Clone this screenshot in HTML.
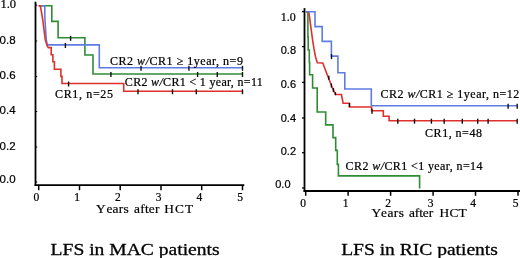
<!DOCTYPE html>
<html><head><meta charset="utf-8"><title>LFS</title>
<style>html,body{margin:0;padding:0;background:#fff;width:520px;height:258px;overflow:hidden}svg{display:block;will-change:transform}</style>
</head><body>
<svg width="520" height="258" viewBox="0 0 520 258">
<line x1="35.5" y1="1.7" x2="35.5" y2="186" stroke="#000" stroke-width="1.8"/>
<line x1="34.6" y1="185.2" x2="244.3" y2="185.2" stroke="#000" stroke-width="1.8"/>
<line x1="35.5" y1="5.2" x2="37.2" y2="5.2" stroke="#000" stroke-width="1.0"/>
<line x1="35.5" y1="41.0" x2="37.2" y2="41.0" stroke="#000" stroke-width="1.0"/>
<line x1="35.5" y1="76.4" x2="37.2" y2="76.4" stroke="#000" stroke-width="1.0"/>
<line x1="35.5" y1="111.5" x2="37.2" y2="111.5" stroke="#000" stroke-width="1.0"/>
<line x1="35.5" y1="147.0" x2="37.2" y2="147.0" stroke="#000" stroke-width="1.0"/>
<line x1="35.5" y1="182.0" x2="37.2" y2="182.0" stroke="#000" stroke-width="1.0"/>
<line x1="38.7" y1="185" x2="38.7" y2="190.2" stroke="#000" stroke-width="1.5"/>
<text x="36.4" y="201" font-family="Liberation Serif" font-size="11.5" font-weight="normal" text-anchor="middle" fill="#000" stroke="#000" stroke-width="0.22">0</text>
<line x1="79.5" y1="185" x2="79.5" y2="190.2" stroke="#000" stroke-width="1.5"/>
<text x="77.2" y="201" font-family="Liberation Serif" font-size="11.5" font-weight="normal" text-anchor="middle" fill="#000" stroke="#000" stroke-width="0.22">1</text>
<line x1="120.2" y1="185" x2="120.2" y2="190.2" stroke="#000" stroke-width="1.5"/>
<text x="117.9" y="201" font-family="Liberation Serif" font-size="11.5" font-weight="normal" text-anchor="middle" fill="#000" stroke="#000" stroke-width="0.22">2</text>
<line x1="161.0" y1="185" x2="161.0" y2="190.2" stroke="#000" stroke-width="1.5"/>
<text x="158.7" y="201" font-family="Liberation Serif" font-size="11.5" font-weight="normal" text-anchor="middle" fill="#000" stroke="#000" stroke-width="0.22">3</text>
<line x1="201.7" y1="185" x2="201.7" y2="190.2" stroke="#000" stroke-width="1.5"/>
<text x="199.4" y="201" font-family="Liberation Serif" font-size="11.5" font-weight="normal" text-anchor="middle" fill="#000" stroke="#000" stroke-width="0.22">4</text>
<line x1="242.5" y1="185" x2="242.5" y2="190.2" stroke="#000" stroke-width="1.5"/>
<text x="240.2" y="201" font-family="Liberation Serif" font-size="11.5" font-weight="normal" text-anchor="middle" fill="#000" stroke="#000" stroke-width="0.22">5</text>
<text x="16" y="8.4" font-family="Liberation Serif" font-size="12.5" font-weight="normal" text-anchor="end" fill="#000" stroke="#000" stroke-width="0.22">1.0</text>
<text x="15.6" y="44" font-family="Liberation Sans" font-size="11.5" font-weight="normal" text-anchor="end" fill="#000" stroke="#000" stroke-width="0.22">0.8</text>
<text x="15.6" y="78.6" font-family="Liberation Sans" font-size="11.5" font-weight="normal" text-anchor="end" fill="#000" stroke="#000" stroke-width="0.22">0.6</text>
<text x="15.6" y="114.4" font-family="Liberation Sans" font-size="11.5" font-weight="normal" text-anchor="end" fill="#000" stroke="#000" stroke-width="0.22">0.4</text>
<text x="15.6" y="149.9" font-family="Liberation Sans" font-size="11.5" font-weight="normal" text-anchor="end" fill="#000" stroke="#000" stroke-width="0.22">0.2</text>
<text x="15.6" y="183" font-family="Liberation Sans" font-size="11.5" font-weight="normal" text-anchor="end" fill="#000" stroke="#000" stroke-width="0.22">0.0</text>
<text x="96.0" y="212.7" font-family="Liberation Serif" font-size="13.4" font-weight="normal" text-anchor="start" fill="#000" stroke="#000" stroke-width="0.2">Y</text>
<text x="106.4" y="212.7" font-family="Liberation Serif" font-size="13.4" font-weight="normal" text-anchor="start" fill="#000" textLength="22.3" lengthAdjust="spacing" stroke="#000" stroke-width="0.2">ears</text>
<text x="134.0" y="212.7" font-family="Liberation Serif" font-size="13.4" font-weight="normal" text-anchor="start" fill="#000" textLength="25.5" lengthAdjust="spacing" stroke="#000" stroke-width="0.2">after</text>
<text x="164.2" y="212.7" font-family="Liberation Serif" font-size="13.4" font-weight="normal" text-anchor="start" fill="#000" stroke="#000" stroke-width="0.2">H</text>
<text x="175.0" y="212.7" font-family="Liberation Serif" font-size="13.4" font-weight="normal" text-anchor="start" fill="#000" stroke="#000" stroke-width="0.2">C</text>
<text x="185.0" y="212.7" font-family="Liberation Serif" font-size="13.4" font-weight="normal" text-anchor="start" fill="#000" stroke="#000" stroke-width="0.2">T</text>
<path d="M38.7,5.8 L51.8,5.8 L51.8,21.4 L58.1,21.4 L58.1,37.8 L84.9,37.8 L84.9,55.0 L93.0,55.0 L93.0,74.0 L242.5,74.0" fill="none" stroke="#2f8c35" stroke-width="1.6" stroke-linejoin="miter" stroke-linecap="butt"/>
<path d="M38.7,5.8 L44.8,5.8 L44.8,17.0 L45.6,30.0 L46.3,40.0 L47.3,44.9 L99.3,44.9 L99.3,67.8 L242.5,67.8" fill="none" stroke="#5f7ce2" stroke-width="1.6" stroke-linejoin="miter" stroke-linecap="butt"/>
<path d="M38.7,5.8 L40.4,5.8 L42.8,20.0 L45.2,39.4 L47.0,45.5 L48.3,47.6 L51.2,47.6 L51.2,47.6 L51.2,54.7 L52.9,54.7 L52.9,61.8 L54.4,61.8 L54.4,69.2 L60.9,69.2 L60.9,76.4 L62.0,76.4 L62.0,83.5 L123.7,83.5 L123.7,91.2 L242.5,91.2" fill="none" stroke="#de302c" stroke-width="1.6" stroke-linejoin="miter" stroke-linecap="butt"/>
<line x1="70.6" y1="35.8" x2="70.6" y2="40.8" stroke="#111" stroke-width="1.4"/>
<line x1="110.9" y1="72.0" x2="110.9" y2="77.0" stroke="#111" stroke-width="1.4"/><line x1="197.6" y1="72.0" x2="197.6" y2="77.0" stroke="#111" stroke-width="1.4"/><line x1="217.3" y1="72.0" x2="217.3" y2="77.0" stroke="#111" stroke-width="1.4"/><line x1="242.5" y1="72.0" x2="242.5" y2="77.0" stroke="#111" stroke-width="1.4"/>
<line x1="65.4" y1="43.0" x2="65.4" y2="48.0" stroke="#111" stroke-width="1.4"/>
<line x1="141.0" y1="65.8" x2="141.0" y2="70.8" stroke="#111" stroke-width="1.4"/><line x1="188.9" y1="65.8" x2="188.9" y2="70.8" stroke="#111" stroke-width="1.4"/><line x1="242.5" y1="65.8" x2="242.5" y2="70.8" stroke="#111" stroke-width="1.4"/>
<line x1="68.6" y1="81.5" x2="68.6" y2="86.5" stroke="#111" stroke-width="1.4"/>
<line x1="138.0" y1="89.2" x2="138.0" y2="94.2" stroke="#111" stroke-width="1.4"/><line x1="172.5" y1="89.2" x2="172.5" y2="94.2" stroke="#111" stroke-width="1.4"/><line x1="196.3" y1="89.2" x2="196.3" y2="94.2" stroke="#111" stroke-width="1.4"/><line x1="242.5" y1="89.2" x2="242.5" y2="94.2" stroke="#111" stroke-width="1.4"/>
<text x="110" y="65" font-family="Liberation Serif" font-size="12" font-weight="normal" text-anchor="start" fill="#000" textLength="132.9" lengthAdjust="spacing" stroke="#000" stroke-width="0.22">CR2 <tspan font-style="italic">w/</tspan>CR1 &#8805; 1year, n=9</text>
<text x="124.8" y="85.6" font-family="Liberation Serif" font-size="12" font-weight="normal" text-anchor="start" fill="#000" textLength="138" lengthAdjust="spacing" stroke="#000" stroke-width="0.22">CR2 <tspan font-style="italic">w/</tspan>CR1 &lt; 1 year, n=11</text>
<text x="55" y="98" font-family="Liberation Serif" font-size="12" font-weight="normal" text-anchor="start" fill="#000" textLength="58" lengthAdjust="spacing" stroke="#000" stroke-width="0.22">CR1, n=25</text>
<text x="50.6" y="254.6" font-family="Liberation Serif" font-size="16" font-weight="normal" text-anchor="start" fill="#000" textLength="169" lengthAdjust="spacingAndGlyphs" stroke="#000" stroke-width="0.28">LFS in MAC patients</text>
<line x1="304.5" y1="8.1" x2="304.5" y2="192" stroke="#000" stroke-width="1.8"/>
<line x1="303.6" y1="191" x2="520" y2="191" stroke="#000" stroke-width="1.8"/>
<line x1="302" y1="11.6" x2="304.5" y2="11.6" stroke="#000" stroke-width="1.3"/>
<line x1="302" y1="46.6" x2="304.5" y2="46.6" stroke="#000" stroke-width="1.3"/>
<line x1="302" y1="82.4" x2="304.5" y2="82.4" stroke="#000" stroke-width="1.3"/>
<line x1="302" y1="118.0" x2="304.5" y2="118.0" stroke="#000" stroke-width="1.3"/>
<line x1="302" y1="152.7" x2="304.5" y2="152.7" stroke="#000" stroke-width="1.3"/>
<line x1="302" y1="188.0" x2="304.5" y2="188.0" stroke="#000" stroke-width="1.3"/>
<line x1="305.7" y1="191" x2="305.7" y2="195.8" stroke="#000" stroke-width="1.5"/>
<text x="303.2" y="207.0" font-family="Liberation Serif" font-size="11.5" font-weight="normal" text-anchor="middle" fill="#000" stroke="#000" stroke-width="0.22">0</text>
<line x1="348.1" y1="191" x2="348.1" y2="195.8" stroke="#000" stroke-width="1.5"/>
<text x="345.6" y="207.0" font-family="Liberation Serif" font-size="11.5" font-weight="normal" text-anchor="middle" fill="#000" stroke="#000" stroke-width="0.22">1</text>
<line x1="390.6" y1="191" x2="390.6" y2="195.8" stroke="#000" stroke-width="1.5"/>
<text x="388.1" y="207.0" font-family="Liberation Serif" font-size="11.5" font-weight="normal" text-anchor="middle" fill="#000" stroke="#000" stroke-width="0.22">2</text>
<line x1="433.1" y1="191" x2="433.1" y2="195.8" stroke="#000" stroke-width="1.5"/>
<text x="430.6" y="207.0" font-family="Liberation Serif" font-size="11.5" font-weight="normal" text-anchor="middle" fill="#000" stroke="#000" stroke-width="0.22">3</text>
<line x1="475.5" y1="191" x2="475.5" y2="195.8" stroke="#000" stroke-width="1.5"/>
<text x="473.0" y="207.0" font-family="Liberation Serif" font-size="11.5" font-weight="normal" text-anchor="middle" fill="#000" stroke="#000" stroke-width="0.22">4</text>
<line x1="518.0" y1="191" x2="518.0" y2="195.8" stroke="#000" stroke-width="1.5"/>
<text x="515.5" y="207.0" font-family="Liberation Serif" font-size="11.5" font-weight="normal" text-anchor="middle" fill="#000" stroke="#000" stroke-width="0.22">5</text>
<text x="295.7" y="20.9" font-family="Liberation Serif" font-size="12" font-weight="normal" text-anchor="end" fill="#000" stroke="#000" stroke-width="0.22">1.0</text>
<text x="296" y="54.2" font-family="Liberation Sans" font-size="11" font-weight="normal" text-anchor="end" fill="#000" stroke="#000" stroke-width="0.22">0.8</text>
<text x="296" y="87.7" font-family="Liberation Sans" font-size="11" font-weight="normal" text-anchor="end" fill="#000" stroke="#000" stroke-width="0.22">0.6</text>
<text x="296" y="121.9" font-family="Liberation Sans" font-size="11" font-weight="normal" text-anchor="end" fill="#000" stroke="#000" stroke-width="0.22">0.4</text>
<text x="296" y="155.3" font-family="Liberation Sans" font-size="11" font-weight="normal" text-anchor="end" fill="#000" stroke="#000" stroke-width="0.22">0.2</text>
<text x="290.5" y="188.2" font-family="Liberation Sans" font-size="11" font-weight="normal" text-anchor="end" fill="#000" stroke="#000" stroke-width="0.22">0.0</text>
<text x="371.5" y="216.5" font-family="Liberation Serif" font-size="13.4" font-weight="normal" text-anchor="start" fill="#000" stroke="#000" stroke-width="0.2">Y</text>
<text x="381.0" y="216.5" font-family="Liberation Serif" font-size="13.4" font-weight="normal" text-anchor="start" fill="#000" textLength="23.0" lengthAdjust="spacing" stroke="#000" stroke-width="0.2">ears</text>
<text x="409.0" y="216.5" font-family="Liberation Serif" font-size="13.4" font-weight="normal" text-anchor="start" fill="#000" textLength="24.1" lengthAdjust="spacing" stroke="#000" stroke-width="0.2">after</text>
<text x="439.5" y="216.5" font-family="Liberation Serif" font-size="13.4" font-weight="normal" text-anchor="start" fill="#000" textLength="27.3" lengthAdjust="spacing" stroke="#000" stroke-width="0.2">HCT</text>
<path d="M305.7,11.8 L307.9,11.8 L307.9,24.4 L307.9,24.4 L307.9,37.1 L308.2,37.1 L308.2,50.0 L309.3,50.0 L309.3,62.5 L309.6,62.5 L309.6,74.7 L312.6,74.7 L312.6,88.0 L317.2,88.0 L317.2,112.0 L325.7,112.0 L325.7,124.9 L333.0,124.9 L333.0,137.6 L335.7,137.6 L335.7,150.4 L337.3,150.4 L337.3,164.4 L338.4,164.4 L338.4,175.9 L419.6,175.9 L419.6,188.4 L419.6,188.4" fill="none" stroke="#2f8c35" stroke-width="1.6" stroke-linejoin="miter" stroke-linecap="butt"/>
<path d="M305.7,11.8 L308.6,11.8 L309.3,15.5 L309.8,19.2 L310.3,22.9 L310.8,26.6 L311.3,30.3 L311.8,34.1 L312.3,37.8 L312.8,41.5 L313.4,45.2 L314.0,48.9 L314.7,52.6 L315.4,56.2 L316.3,59.4 L317.4,62.8 L322.8,63.0 L324.2,66.8 L325.6,70.5 L327.0,74.2 L328.5,78.0 L330.0,81.8 L331.4,85.5 L333.0,89.2 L335.6,94.5 L341.4,94.5 L342.3,99.0 L343.1,103.2 L349.4,103.2 L349.4,107.0 L371.6,107.0 L371.6,110.8 L383.3,110.8 L383.3,116.2 L389.1,116.2 L389.1,120.7 L517.0,120.7" fill="none" stroke="#de302c" stroke-width="1.6" stroke-linejoin="miter" stroke-linecap="butt"/>
<path d="M305.7,11.8 L315.0,11.8 L315.0,26.6 L322.2,26.6 L322.2,41.4 L331.4,41.4 L331.4,56.1 L337.9,56.1 L337.9,72.7 L344.8,72.7 L344.8,89.0 L371.3,89.0 L371.3,105.8 L517.0,105.8" fill="none" stroke="#5f7ce2" stroke-width="1.6" stroke-linejoin="miter" stroke-linecap="butt"/>
<line x1="331.5" y1="54.1" x2="331.5" y2="59.1" stroke="#111" stroke-width="1.4"/>
<line x1="508.1" y1="103.8" x2="508.1" y2="108.8" stroke="#111" stroke-width="1.4"/><line x1="517.2" y1="103.8" x2="517.2" y2="108.8" stroke="#111" stroke-width="1.4"/>
<line x1="328.8" y1="75.7" x2="328.8" y2="79.7" stroke="#111" stroke-width="1.4"/>
<line x1="331.4" y1="83.5" x2="331.4" y2="87.5" stroke="#111" stroke-width="1.4"/>
<line x1="333.4" y1="88.0" x2="333.4" y2="92.0" stroke="#111" stroke-width="1.4"/>
<line x1="335.4" y1="92.2" x2="335.4" y2="95.2" stroke="#111" stroke-width="1.4"/>
<line x1="349.5" y1="103.0" x2="349.5" y2="107.0" stroke="#111" stroke-width="1.4"/>
<line x1="372.0" y1="108.8" x2="372.0" y2="113.8" stroke="#111" stroke-width="1.4"/>
<line x1="397.8" y1="118.7" x2="397.8" y2="123.7" stroke="#111" stroke-width="1.4"/><line x1="414.5" y1="118.7" x2="414.5" y2="123.7" stroke="#111" stroke-width="1.4"/><line x1="431.4" y1="118.7" x2="431.4" y2="123.7" stroke="#111" stroke-width="1.4"/><line x1="444.2" y1="118.7" x2="444.2" y2="123.7" stroke="#111" stroke-width="1.4"/><line x1="462.3" y1="118.7" x2="462.3" y2="123.7" stroke="#111" stroke-width="1.4"/><line x1="477.7" y1="118.7" x2="477.7" y2="123.7" stroke="#111" stroke-width="1.4"/><line x1="488.1" y1="118.7" x2="488.1" y2="123.7" stroke="#111" stroke-width="1.4"/><line x1="517.2" y1="118.7" x2="517.2" y2="123.7" stroke="#111" stroke-width="1.4"/>
<text x="380.4" y="98.1" font-family="Liberation Serif" font-size="12" font-weight="normal" text-anchor="start" fill="#000" textLength="138.8" lengthAdjust="spacing" stroke="#000" stroke-width="0.22">CR2 <tspan font-style="italic">w/</tspan>CR1 &#8805; 1year, n=12</text>
<text x="425.1" y="136.5" font-family="Liberation Serif" font-size="12" font-weight="normal" text-anchor="start" fill="#000" textLength="56.8" lengthAdjust="spacing" stroke="#000" stroke-width="0.22">CR1, n=48</text>
<text x="345.6" y="169.7" font-family="Liberation Serif" font-size="12" font-weight="normal" text-anchor="start" fill="#000" textLength="136.9" lengthAdjust="spacing" stroke="#000" stroke-width="0.22">CR2 <tspan font-style="italic">w/</tspan>CR1 &lt;1 year, n=14</text>
<text x="341.2" y="255" font-family="Liberation Serif" font-size="16" font-weight="normal" text-anchor="start" fill="#000" textLength="156.7" lengthAdjust="spacingAndGlyphs" stroke="#000" stroke-width="0.28">LFS in RIC patients</text>
</svg>
</body></html>
